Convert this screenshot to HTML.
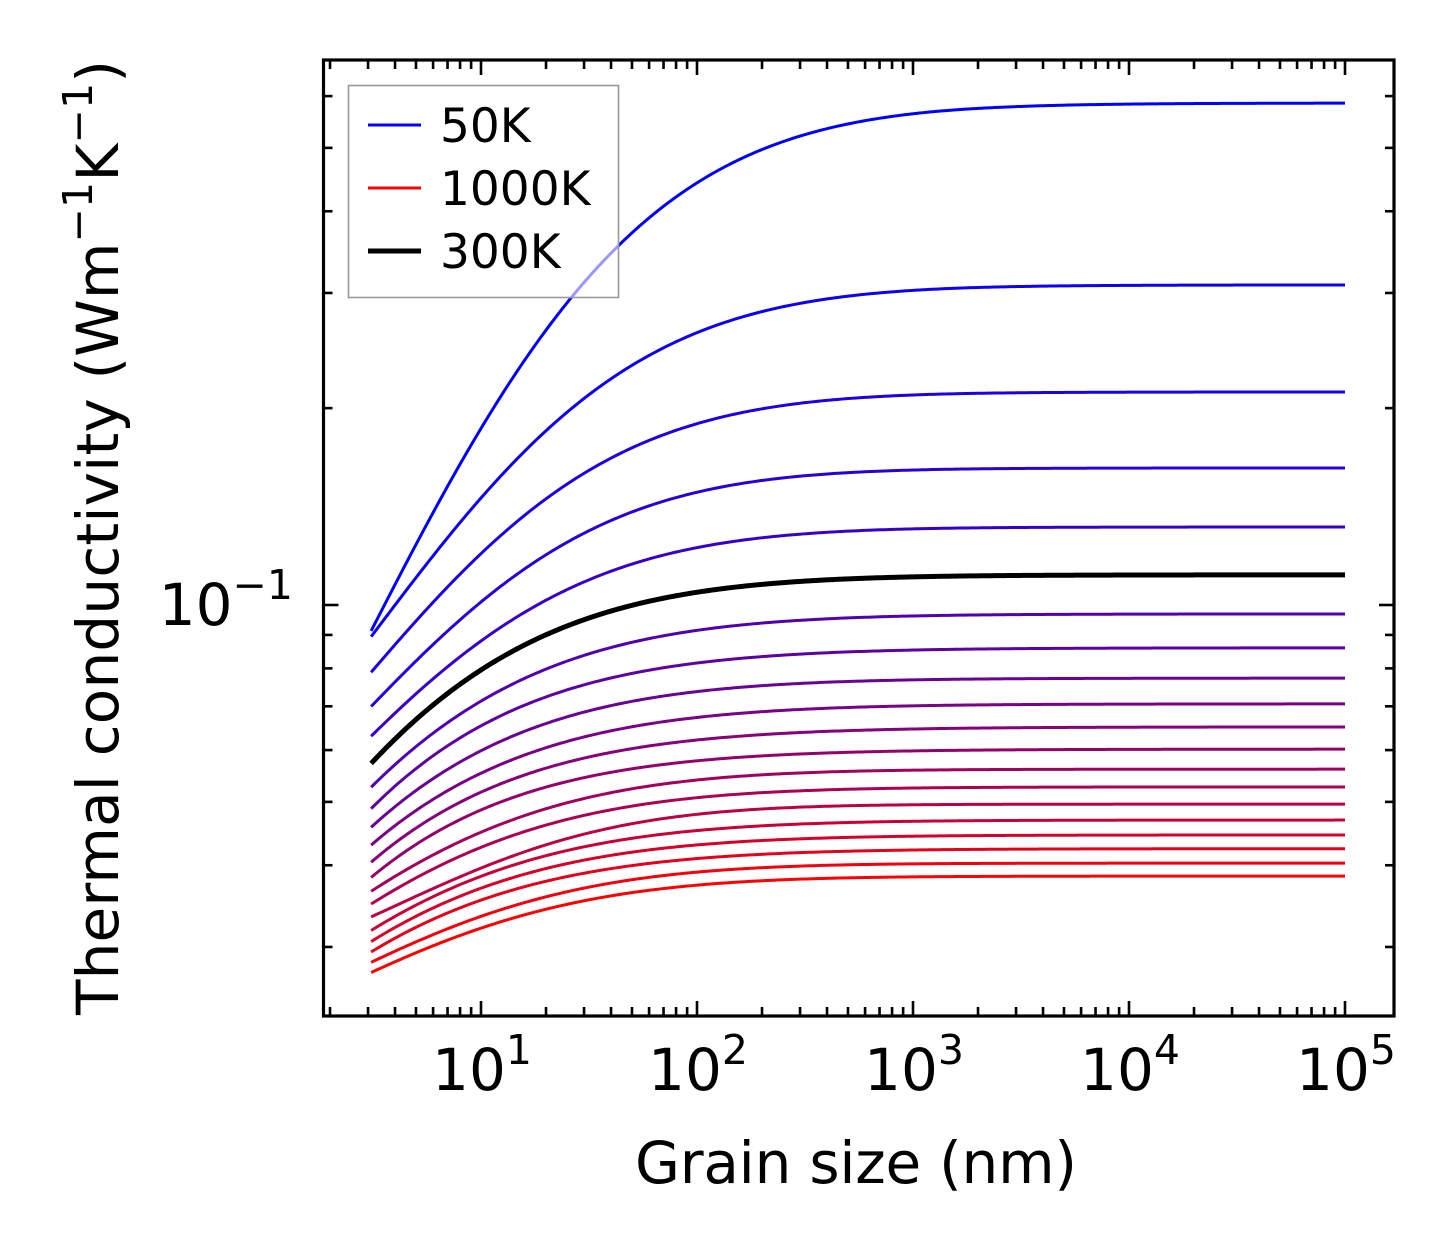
<!DOCTYPE html>
<html><head><meta charset="utf-8"><style>
html,body{margin:0;padding:0;background:#fff;}
svg{display:block;font-family:"DejaVu Sans","Liberation Sans",sans-serif;}
</style></head><body>
<svg id="chart" width="1454" height="1254" viewBox="0 0 1454 1254" xmlns="http://www.w3.org/2000/svg">
<rect x="0" y="0" width="1454" height="1254" fill="#fff"/>
<g id="series"></g>
<g id="ticks"></g>
<rect x="323.5" y="60" width="1070.5" height="956" fill="none" stroke="#000" stroke-width="3.2"/>
<g id="xlabels"></g>
<text x="293" y="625" text-anchor="end" font-size="58">10<tspan dy="-26" font-size="41">−1</tspan></text>
<text x="635" y="1183" font-size="58" textLength="442">Grain size (nm)</text>
<text transform="translate(118,1015) rotate(-90)" x="0" y="0" font-size="58" textLength="955">Thermal conductivity (Wm<tspan dy="-26" font-size="41">−1</tspan><tspan dy="26">K</tspan><tspan dy="-26" font-size="41">−1</tspan><tspan dy="26">)</tspan></text>
<g>
<rect x="348.5" y="85.5" width="270" height="212" fill="#fff" fill-opacity="0.6" stroke="#999" stroke-width="1.6"/>
<g>
<line x1="368" y1="125" x2="421" y2="125" stroke="#0000ff" stroke-width="3"/>
<text x="440" y="142" font-size="47">50K</text></g>
<g>
<line x1="368" y1="188" x2="421" y2="188" stroke="#ff0000" stroke-width="3"/>
<text x="440" y="205" font-size="47">1000K</text></g>
<g>
<line x1="368" y1="251" x2="421" y2="251" stroke="#000" stroke-width="5"/>
<text x="440" y="268" font-size="47">300K</text></g>
</g>
</svg>
<script>
const grainSizes = [3.1, 8, 23, 68, 200, 1000, 100000];
const temperatures = [50,100,150,200,250,300,350,400,450,500,550,600,650,700,750,800,850,900,950,1000];
const k50  = [0.0916,0.1569,0.2661,0.4119,0.4997,0.5633,0.5855];
const k100 = [0.0894,0.1265,0.2036,0.2498,0.2757,0.3031,0.3086];
const k150 = [0.0790,0.1070,0.1515,0.1832,0.1987,0.2095,0.2117];
const k200 = [0.0701,0.0925,0.1201,0.1447,0.1553,0.1608,0.1620];
const k250 = [0.0631,0.0827,0.1011,0.1197,0.1270,0.1307,0.1316];
const k300 = [0.0573,0.0752,0.0906,0.1025,0.1077,0.1104,0.1112];
const k350 = [0.0527,0.0676,0.0801,0.0900,0.0939,0.0962,0.0969];
const k400 = [0.0489,0.0617,0.0721,0.0804,0.0836,0.0853,0.0860];
const k450 = [0.0458,0.0567,0.0658,0.0726,0.0755,0.0768,0.0773];
const k500 = [0.0430,0.0527,0.0604,0.0665,0.0688,0.0701,0.0706];
const k550 = [0.0405,0.0491,0.0561,0.0615,0.0635,0.0646,0.0651];
const k600 = [0.0384,0.0461,0.0523,0.0571,0.0590,0.0598,0.0602];
const k650 = [0.0365,0.0436,0.0491,0.0533,0.0550,0.0559,0.0561];
const k700 = [0.0349,0.0413,0.0464,0.0502,0.0516,0.0525,0.0527];
const k750 = [0.0333,0.0392,0.0439,0.0472,0.0486,0.0495,0.0496];
const k800 = [0.0318,0.0373,0.0416,0.0448,0.0459,0.0467,0.0469];
const k850 = [0.0306,0.0356,0.0396,0.0425,0.0437,0.0443,0.0445];
const k900 = [0.0295,0.0342,0.0378,0.0406,0.0416,0.0422,0.0424];
const k950 = [0.0284,0.0329,0.0362,0.0386,0.0396,0.0402,0.0403];
const k1000= [0.0274,0.0315,0.0347,0.0369,0.0378,0.0384,0.0385];
const seriesValues = [k50,k100,k150,k200,k250,k300,k350,k400,k450,k500,k550,k600,k650,k700,k750,k800,k850,k900,k950,k1000];
const xTickExps = [1,2,3,4,5];
const xTickLabels = ["1","2","3","4","5"];

const NS = "http://www.w3.org/2000/svg";
const X0 = 323.5, X1 = 1394, Y0 = 60, Y1 = 1016;
const xLogMin = 1 - (481 - X0) / 216, xLogMax = 5 + (X1 - 1345) / 216;
const yLogTop = -1 + (605 - Y0) / 654, yLogBot = -1 - (Y1 - 605) / 654;
function xScale(v){ return X0 + (Math.log10(v) - xLogMin) / (xLogMax - xLogMin) * (X1 - X0); }
function yScale(v){ return Y0 + (yLogTop - Math.log10(v)) / (yLogTop - yLogBot) * (Y1 - Y0); }

// least-squares quadratic smoothing fit (first point weighted heavily), linear tail
function smoothFit(xs, ys){
  const S = [[0,0,0],[0,0,0],[0,0,0]], R = [0,0,0];
  xs.forEach((x, i) => {
    const w = (i===0) ? 20 : 1;
    const b = [1, x, x*x];
    for (let r=0;r<3;r++){ R[r] += w*b[r]*ys[i]; for (let c=0;c<3;c++) S[r][c] += w*b[r]*b[c]; }
  });
  // solve 3x3 (Gaussian elimination)
  for (let i=0;i<3;i++){
    for (let j=i+1;j<3;j++){
      const f = S[j][i]/S[i][i];
      for (let k=i;k<3;k++) S[j][k] -= f*S[i][k];
      R[j] -= f*R[i];
    }
  }
  const c = [0,0,0];
  for (let i=2;i>=0;i--){ let s=R[i]; for (let k=i+1;k<3;k++) s -= S[i][k]*c[k]; c[i]=s/S[i][i]; }
  const xe = xs[xs.length-1];
  const ye = c[0]+c[1]*xe+c[2]*xe*xe;
  const se = Math.min(c[1]+2*c[2]*xe, -0.6);
  return function(x){
    if (x > xe) return ye + se*(x-xe);
    return c[0]+c[1]*x+c[2]*x*x;
  };
}

const gS = document.getElementById('series');
let blackPath = null;
seriesValues.forEach((vals, idx) => {
  const n = vals.length;
  const lEnd = Math.log10(vals[n-1]);
  const lx = grainSizes.slice(0, n-1).map(Math.log10);
  const ld = vals.slice(0, n-1).map(v => Math.log10(Math.max(lEnd - Math.log10(v), 3e-4)));
  const f = smoothFit(lx, ld);
  const lxEnd = Math.log10(grainSizes[n-1]);
  let d = "";
  const N = 300;
  for (let j=0;j<=N;j++){
    const l = lx[0] + (lxEnd-lx[0])*j/N;
    const v = Math.pow(10, lEnd - Math.pow(10, f(l)));
    d += (j?"L":"M") + xScale(Math.pow(10,l)).toFixed(2) + "," + yScale(v).toFixed(2);
  }
  const p = document.createElementNS(NS,'path');
  p.setAttribute('d', d);
  p.setAttribute('fill','none');
  p.setAttribute('stroke-linejoin','round');
  const T = temperatures[idx];
  
  
  if (T === 300){
    p.setAttribute('stroke','#000'); p.setAttribute('stroke-width','5');
    blackPath = p;
  } else {
    const fr = idx/(seriesValues.length-1);
    p.setAttribute('stroke', 'rgb(' + Math.round(255*fr) + ',0,' + Math.round(255*(1-fr)) + ')');
    p.setAttribute('stroke-width','3');
    gS.appendChild(p);
  }
});
if (blackPath) gS.appendChild(blackPath);

const gT = document.getElementById('ticks');
function tick(x1,y1,x2,y2,w){
  const l = document.createElementNS(NS,'line');
  l.setAttribute('x1',x1); l.setAttribute('y1',y1); l.setAttribute('x2',x2); l.setAttribute('y2',y2);
  l.setAttribute('stroke','#000'); l.setAttribute('stroke-width',w);
  
  
  gT.appendChild(l);
}
for (let e=0;e<=5;e++){
  for (let k=1;k<=9;k++){
    const v = k*Math.pow(10,e), x = xScale(v);
    if (x < X0+2 || x > X1-2) continue;
    const L = (k===1)?15:9;
    tick(x,Y1,x,Y1-L,2.6); tick(x,Y0,x,Y0+L,2.6);
  }
}
for (let e=-2;e<=0;e++){
  for (let k=1;k<=9;k++){
    const v = k*Math.pow(10,e), y = yScale(v);
    if (y < Y0+2 || y > Y1-2) continue;
    const L = (k===1)?15:9;
    tick(X0,y,X0+L,y,2.6); tick(X1,y,X1-L,y,2.6);
  }
}
const gX = document.getElementById('xlabels');
xTickExps.forEach((ex, i) => {
  const t = document.createElementNS(NS,'text');
  t.setAttribute('x', xScale(Math.pow(10,ex)) + 1);
  t.setAttribute('y', 1090);
  t.setAttribute('text-anchor','middle');
  t.setAttribute('font-size','58');
  
  
  t.innerHTML = '10<tspan dy="-26" font-size="41">' + xTickLabels[i] + '</tspan>';
  gX.appendChild(t);
});
</script>
</body></html>
